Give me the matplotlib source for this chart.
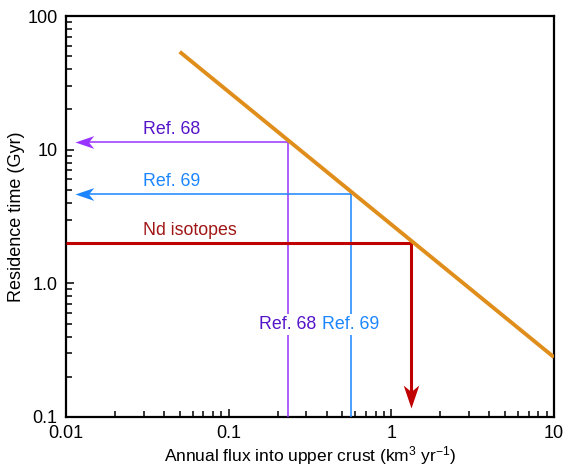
import matplotlib
matplotlib.use("Agg")
import matplotlib.pyplot as plt
import numpy as np
from matplotlib.path import Path
from matplotlib.ticker import LogLocator, FixedLocator, FixedFormatter, NullFormatter

plt.rcParams['font.family'] = ['Liberation Sans', 'DejaVu Sans']
plt.rcParams['mathtext.fontset'] = 'custom'
plt.rcParams['mathtext.rm'] = 'Liberation Sans'
plt.rcParams['mathtext.it'] = 'Liberation Sans:italic'

# Data
trend_flux = [0.05, 10.0]          # km3/yr
trend_time = [54.0, 0.28]          # Gyr
ref_names = ["Ref. 68", "Ref. 69", "Nd isotopes"]
ref_flux = [0.232, 0.565, 1.33]
ref_time = [11.4, 4.67, 2.0]
x_ticks = [0.01, 0.1, 1, 10]
x_ticklabels = ["0.01", "0.1", "1", "10"]
y_ticks = [0.1, 1, 10, 100]
y_ticklabels = ["0.1", "1.0", "10", "100"]

line_cols = ["#9933FF", "#1A85FF", "#C00000"]
text_cols = ["#5514C8", "#1A85FF", "#A01515"]
orange = "#E08E1B"

fig = plt.figure(figsize=(5.65, 4.68), dpi=100)
ax = fig.add_axes([0.1168, 0.109, 0.8637, 0.8568])
ax.set_xscale('log')
ax.set_yscale('log')
ax.set_xlim(0.01, 10)
ax.set_ylim(0.1, 100)

# notched arrowhead marker with the tip at the marker origin (pointing left at angle 0)
def head(angle):
    verts = [(0, 0), (1, 0.34), (0.72, 0), (1, -0.34), (0, 0)]
    a = np.deg2rad(angle)
    R = np.array([[np.cos(a), -np.sin(a)], [np.sin(a), np.cos(a)]])
    v = [tuple(R @ np.array(p)) for p in verts]
    return Path(v, [Path.MOVETO, Path.LINETO, Path.LINETO, Path.LINETO, Path.CLOSEPOLY])

ax.plot(trend_flux, trend_time, color=orange, lw=2.8, solid_capstyle='butt', zorder=4)

tip_x = 0.0113
bottom_y = 0.1
fs_ann = 12.8
for i, (name, fx, ty) in enumerate(zip(ref_names, ref_flux, ref_time)):
    c = line_cols[i]
    if i < 2:
        lw = 1.1
        ax.plot([tip_x * 1.15, fx], [ty, ty], color=c, lw=lw, zorder=3)
        ax.plot([fx, fx], [ty, bottom_y], color=c, lw=lw, zorder=3)
        ax.plot([tip_x], [ty], marker=head(0), markersize=27, color=c, mec='none', zorder=5,
                clip_on=False)
        ax.annotate(name, xy=(fx, 0.49), ha='center', va='center', color=text_cols[i],
                    fontsize=fs_ann, zorder=6,
                    bbox=dict(boxstyle='square,pad=0.1', fc='white', ec='none'))
    else:
        lw = 2.2
        ax.plot([0.01, fx], [ty, ty], color=c, lw=lw, zorder=3, solid_capstyle='butt')
        ax.plot([fx, fx], [ty, 0.14], color=c, lw=lw, zorder=3)
        ax.plot([fx], [0.117], marker=head(90), markersize=33, color=c, mec='none', zorder=5)
    ax.annotate(name, xy=(0.0297, ty), xytext=(0, 3), textcoords='offset points',
                ha='left', va='bottom', color=text_cols[i], fontsize=fs_ann)

ax.xaxis.set_major_locator(FixedLocator(x_ticks))
ax.xaxis.set_major_formatter(FixedFormatter(x_ticklabels))
ax.yaxis.set_major_locator(FixedLocator(y_ticks))
ax.yaxis.set_major_formatter(FixedFormatter(y_ticklabels))
ax.xaxis.set_minor_locator(LogLocator(base=10, subs=np.arange(2, 10)))
ax.yaxis.set_minor_locator(LogLocator(base=10, subs=np.arange(2, 10)))
ax.xaxis.set_minor_formatter(NullFormatter())
ax.yaxis.set_minor_formatter(NullFormatter())
ax.tick_params(which='both', direction='in', top=False, right=False, labelsize=13, width=1.1)
ax.tick_params(which='major', length=6)
ax.tick_params(which='minor', length=4)
ax.tick_params(axis='x', pad=6)
ax.tick_params(axis='y', pad=6)
for s in ax.spines.values():
    s.set_linewidth(1.6)

ax.set_xlabel("Annual flux into upper crust (km$^3$ yr$^{\u22121}$)", fontsize=12.5, labelpad=1)
ax.set_ylabel("Residence time (Gyr)", fontsize=13, labelpad=2)

fig.savefig("out.png", dpi=100)
